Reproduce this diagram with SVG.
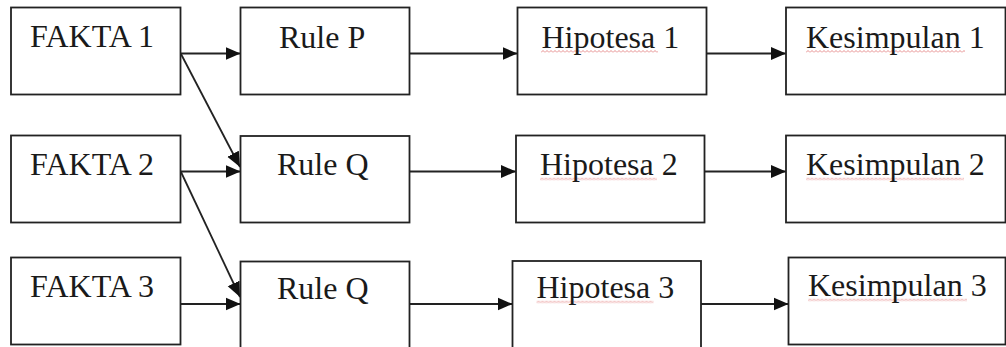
<svg xmlns="http://www.w3.org/2000/svg" width="1006" height="347" viewBox="0 0 1006 347">
<style>
.box{fill:#fff;stroke:#222;stroke-width:1.8}
.lbl{font-family:'Liberation Serif','DejaVu Serif',serif;font-size:32px;fill:#1a1a1a}
.con{fill:none;stroke:#222;stroke-width:1.8;marker-end:url(#arr)}
.wv{fill:url(#wave)}
</style>
<defs>
<marker id="arr" markerUnits="userSpaceOnUse" markerWidth="15" markerHeight="14" refX="15" refY="7" orient="auto">
<path d="M0,0.5 L15,7 L0,13.5 z" fill="#111"/>
</marker>
<pattern id="wave" patternUnits="userSpaceOnUse" width="4" height="3">
<path d="M0,2.5 L2,0.5 L4,2.5" fill="none" stroke="#e07070" stroke-width="0.8"/>
</pattern>
</defs>
<rect width="1006" height="347" fill="#fff"/>
<g id="connectors">
<line class="con" x1="181" y1="53.5" x2="240.5" y2="53.5"/>
<line class="con" x1="181" y1="54" x2="240" y2="167"/>
<line class="con" x1="181" y1="171.5" x2="240.5" y2="171.5"/>
<line class="con" x1="181" y1="172" x2="240" y2="297"/>
<line class="con" x1="181" y1="304" x2="240.5" y2="304"/>
<line class="con" x1="409.5" y1="53.5" x2="517.5" y2="53.5"/>
<line class="con" x1="409.5" y1="171.5" x2="516" y2="171.5"/>
<line class="con" x1="409.5" y1="304" x2="512.5" y2="304"/>
<line class="con" x1="706.5" y1="53.5" x2="786" y2="53.5"/>
<line class="con" x1="704.5" y1="171.5" x2="786" y2="171.5"/>
<line class="con" x1="701" y1="304" x2="788.5" y2="304"/>
</g>
<g id="fakta1"><rect class="box" x="11" y="7.5" width="169.5" height="87"/><text class="lbl" x="30" y="47">FAKTA 1</text></g>
<g id="fakta2"><rect class="box" x="11" y="135.5" width="169.5" height="87"/><text class="lbl" x="30" y="175">FAKTA 2</text></g>
<g id="fakta3"><rect class="box" x="11" y="257.5" width="169.5" height="87"/><text class="lbl" x="30" y="297">FAKTA 3</text></g>
<g id="ruleP"><rect class="box" x="240.5" y="7.5" width="169" height="87"/><text class="lbl" x="279" y="47.5">Rule P</text></g>
<g id="ruleQ1"><rect class="box" x="240.5" y="136" width="169" height="86.5"/><text class="lbl" x="277" y="175">Rule Q</text></g>
<g id="ruleQ2"><rect class="box" x="240.5" y="261.5" width="169" height="100"/><text class="lbl" x="277" y="298.5">Rule Q</text></g>
<g id="hipotesa1"><rect class="box" x="517.5" y="7.5" width="189" height="87"/><g transform="translate(541,50)"><rect class="wv" width="117" height="3"/></g><text class="lbl" x="541.5" y="47.5">Hipotesa 1</text></g>
<g id="hipotesa2"><rect class="box" x="516" y="135.5" width="188.5" height="87"/><g transform="translate(540,177.5)"><rect class="wv" width="117" height="3"/></g><text class="lbl" x="540" y="175">Hipotesa 2</text></g>
<g id="hipotesa3"><rect class="box" x="512.5" y="261" width="188.5" height="100"/><g transform="translate(536.5,300.5)"><rect class="wv" width="117" height="3"/></g><text class="lbl" x="536.5" y="298">Hipotesa 3</text></g>
<g id="kesimpulan1"><rect class="box" x="786" y="7.5" width="219.5" height="87"/><g transform="translate(806,50)"><rect class="wv" width="159" height="3"/></g><text class="lbl" x="806" y="47.5">Kesimpulan 1</text></g>
<g id="kesimpulan2"><rect class="box" x="786" y="135.5" width="219.5" height="87"/><g transform="translate(806,177.5)"><rect class="wv" width="158" height="3"/></g><text class="lbl" x="806" y="175">Kesimpulan 2</text></g>
<g id="kesimpulan3"><rect class="box" x="788.5" y="257.5" width="217" height="87"/><g transform="translate(808,298.5)"><rect class="wv" width="159" height="3"/></g><text class="lbl" x="808" y="296">Kesimpulan 3</text></g>
</svg>
